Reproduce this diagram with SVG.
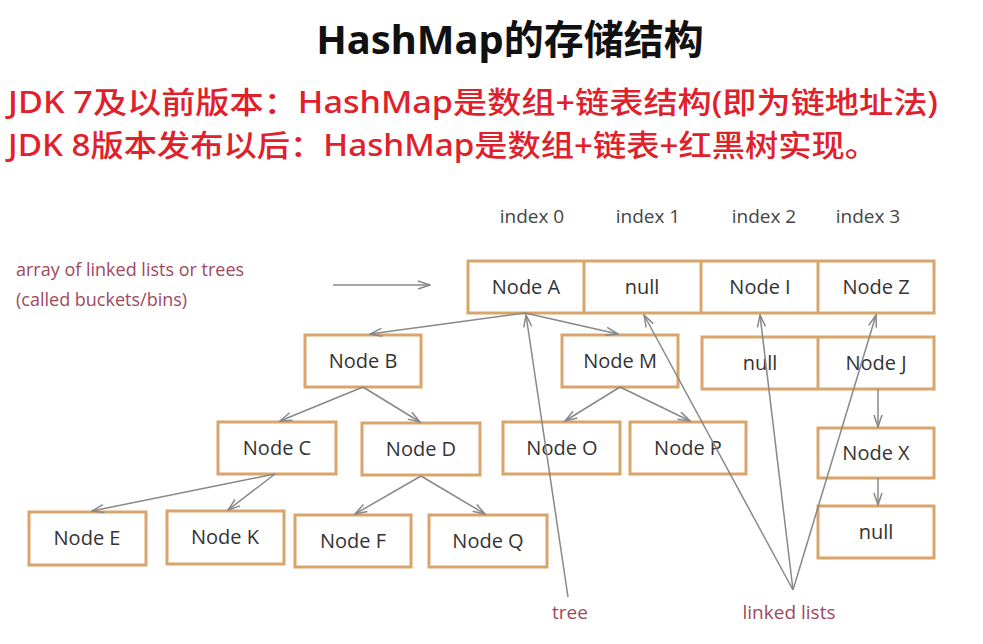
<svg xmlns="http://www.w3.org/2000/svg" width="983" height="644" viewBox="0 0 983 644">
<style>
text{font-family:"Open Sans","Noto Sans CJK SC",sans-serif}
.b{fill:#fff;stroke:#d9a56a;stroke-width:3}
.t{font-size:20px;fill:#333;text-anchor:middle}
.c{stroke:#888;stroke-width:1.5;fill:none;marker-end:url(#a)}
.r{fill:#e0202a;font-size:30px;font-weight:500;font-family:"Noto Sans","Noto Sans CJK SC",sans-serif}
.l{fill:#444;font-size:19px}
</style>
<defs><marker id="a" markerWidth="14" markerHeight="10" refX="13" refY="5" orient="auto" markerUnits="userSpaceOnUse"><path d="M1,1 L13,5 L1,9" fill="none" stroke="#888" stroke-width="1.5"/></marker></defs>
<rect width="983" height="644" fill="#fff"/>
<text x="510" y="54" text-anchor="middle" font-size="40" font-weight="bold" fill="#111" style="font-family:'Noto Sans','Noto Sans CJK SC',sans-serif">HashMap的存储结构</text>
<text class="r" x="8" y="113" textLength="930" lengthAdjust="spacingAndGlyphs">JDK 7及以前版本：HashMap是数组+链表结构(即为链地址法)</text>
<text class="r" x="8" y="156" textLength="870" lengthAdjust="spacingAndGlyphs">JDK 8版本发布以后：HashMap是数组+链表+红黑树实现。</text>
<text class="l" x="532" y="223" text-anchor="middle">index 0</text>
<text class="l" x="648" y="223" text-anchor="middle">index 1</text>
<text class="l" x="764" y="223" text-anchor="middle">index 2</text>
<text class="l" x="868" y="223" text-anchor="middle">index 3</text>
<text x="16" y="276" fill="#a04860" font-size="18">array of linked lists or trees</text>
<text x="16" y="306" fill="#a04860" font-size="18">(called buckets/bins)</text>
<text x="570" y="619" fill="#a04860" font-size="19" text-anchor="middle">tree</text>
<text x="789" y="619" fill="#a04860" font-size="19" text-anchor="middle">linked lists</text>
<g id="arr">
<rect class="b" x="468" y="261" width="466" height="52"/>
<line x1="584" y1="261" x2="584" y2="313" stroke="#d9a56a" stroke-width="3"/>
<line x1="701" y1="261" x2="701" y2="313" stroke="#d9a56a" stroke-width="3"/>
<line x1="818" y1="261" x2="818" y2="313" stroke="#d9a56a" stroke-width="3"/>
<text class="t" x="526" y="294">Node A</text><text class="t" x="642" y="294">null</text><text class="t" x="760" y="294">Node I</text><text class="t" x="876" y="294">Node Z</text>
</g>
<g id="nB"><rect class="b" x="305" y="335" width="116" height="52"/><text class="t" x="363" y="368">Node B</text></g>
<g id="nM"><rect class="b" x="562" y="335" width="116" height="52"/><text class="t" x="620" y="368">Node M</text></g>
<g id="row2"><rect class="b" x="702" y="337" width="232" height="52"/><line x1="818" y1="337" x2="818" y2="389" stroke="#d9a56a" stroke-width="3"/><text class="t" x="760" y="370">null</text><text class="t" x="876" y="370">Node J</text></g>
<g id="nC"><rect class="b" x="218" y="422" width="118" height="52"/><text class="t" x="277" y="455">Node C</text></g>
<g id="nD"><rect class="b" x="362" y="423" width="118" height="52"/><text class="t" x="421" y="456">Node D</text></g>
<g id="nO"><rect class="b" x="503" y="422" width="117" height="52"/><text class="t" x="562" y="455">Node O</text></g>
<g id="nP"><rect class="b" x="630" y="422" width="116" height="52"/><text class="t" x="688" y="455">Node P</text></g>
<g id="nE"><rect class="b" x="29" y="512" width="117" height="53"/><text class="t" x="87" y="545">Node E</text></g>
<g id="nK"><rect class="b" x="167" y="511" width="117" height="53"/><text class="t" x="225" y="544">Node K</text></g>
<g id="nF"><rect class="b" x="295" y="515" width="116" height="52"/><text class="t" x="353" y="548">Node F</text></g>
<g id="nQ"><rect class="b" x="429" y="515" width="118" height="52"/><text class="t" x="488" y="548">Node Q</text></g>
<g id="nX"><rect class="b" x="818" y="428" width="116" height="50"/><text class="t" x="876" y="460">Node X</text></g>
<g id="nN"><rect class="b" x="818" y="506" width="116" height="52"/><text class="t" x="876" y="539">null</text></g>
<g id="connectors">
<line class="c" x1="333" y1="285" x2="430" y2="285"/>
<line class="c" x1="525" y1="313" x2="370" y2="334"/>
<line class="c" x1="525" y1="313" x2="618" y2="334"/>
<line class="c" x1="363" y1="387" x2="280" y2="421"/>
<line class="c" x1="363" y1="387" x2="420" y2="422"/>
<line class="c" x1="620" y1="387" x2="565" y2="421"/>
<line class="c" x1="620" y1="387" x2="690" y2="421"/>
<line class="c" x1="275" y1="474" x2="92" y2="511"/>
<line class="c" x1="275" y1="474" x2="228" y2="510"/>
<line class="c" x1="421" y1="476" x2="355" y2="514"/>
<line class="c" x1="421" y1="476" x2="485" y2="514"/>
<line class="c" x1="878" y1="389" x2="878" y2="427"/>
<line class="c" x1="878" y1="478" x2="878" y2="505"/>
<line class="c" x1="568" y1="597" x2="526" y2="315"/>
<line class="c" x1="793" y1="590" x2="644" y2="315"/>
<line class="c" x1="793" y1="590" x2="760" y2="315"/>
<line class="c" x1="793" y1="590" x2="876" y2="315"/>
</g>
</svg>
